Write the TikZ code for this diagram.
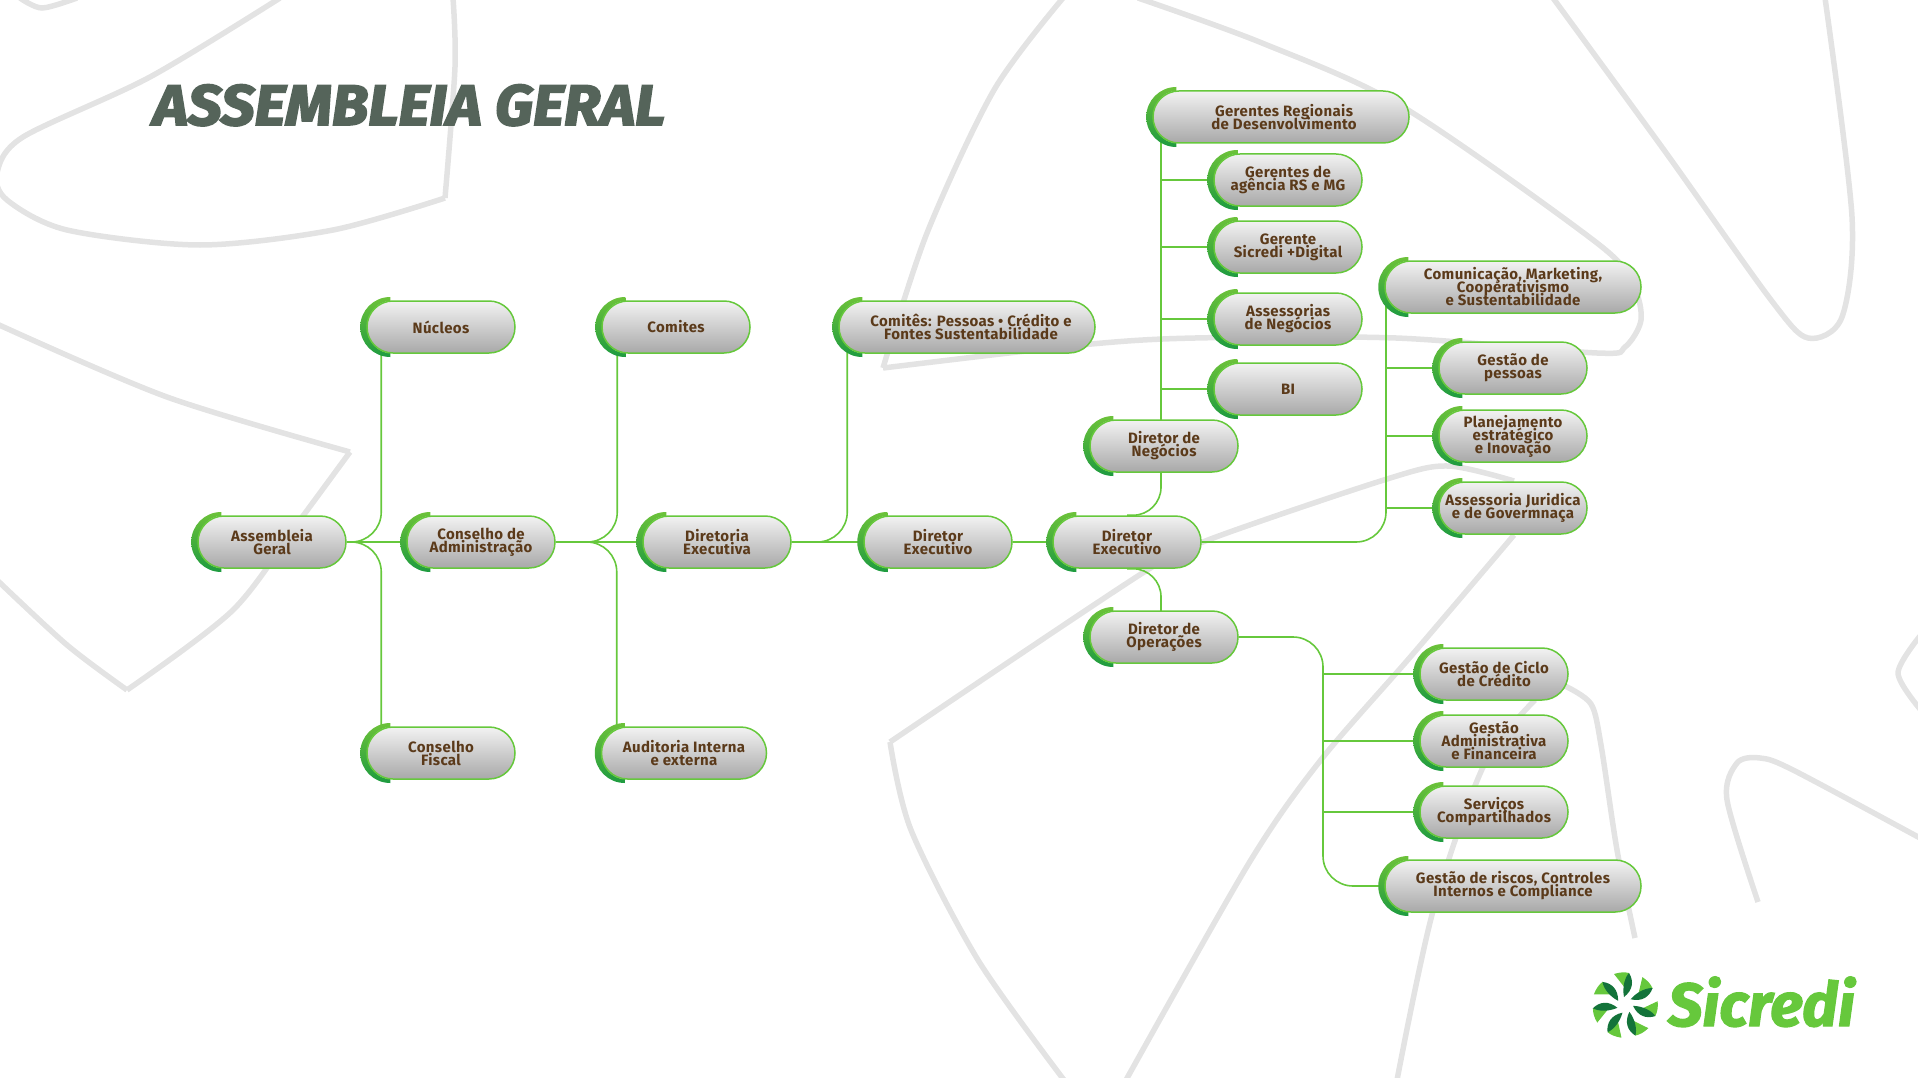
\documentclass[tikz,border=0pt]{standalone}
\usepackage{fontspec}
\setmainfont[LetterSpace=2.5]{Fira Sans}
\newfontfamily\titlefont[FakeBold=3.2,FakeStretch=1.05]{Fira Sans}
\newfontfamily\logofont[FakeBold=2]{Fira Sans}
\usetikzlibrary{backgrounds}
\definecolor{boxgreen}{HTML}{66C83C}
\definecolor{arctop}{HTML}{6CC23A}
\definecolor{arcbot}{HTML}{1E9B40}
\definecolor{textbrown}{HTML}{5B3A1A}
\definecolor{titlegrey}{HTML}{55645A}
\definecolor{swoosh}{HTML}{E3E3E3}
\definecolor{logodark}{HTML}{13733A}
\newcommand{\boxfont}{\bfseries\fontsize{15}{13}\selectfont\lineskiplimit=-20pt\relax}
\tikzset{
  main box/.style={rectangle, rounded corners=25.9pt, draw=boxgreen, line width=1.5pt,
    top color=white!95!black, bottom color=white!66!black, minimum width=#1, minimum height=52pt,
    inner sep=0pt, align=center, text=textbrown, font=\boxfont,
    append after command={
      \pgfextra{\shade[top color=arctop, bottom color=arcbot]
        ([shift={(24pt,30pt)}]\tikzlastnode.west) arc[start angle=90, end angle=270, radius=30pt]
        -- ++(0,4pt) arc[start angle=270, end angle=90, x radius=23pt, y radius=26pt] -- cycle;}
    }},
  main box/.default=148pt,
  conn/.style={draw=boxgreen, line width=1.6pt},
  back line/.style={draw=swoosh, line width=5.5pt, line join=miter}
}
\begin{document}
\begin{tikzpicture}[x=1pt, y=1pt]
  \useasboundingbox (0,0) rectangle (1918,-1078);

  % Background lines
  \begin{pgfonlayer}{background}
  \begin{scope}
    \clip (0,0) rectangle (1918,-1078);
    \draw[back line] plot[smooth] coordinates {(20,2) (42,-8) (77,2)};
    \draw[back line] plot[smooth] coordinates {(453,2) (455,-67) (445,-198)};
    \draw[back line] plot[smooth] coordinates {(445,-198) (333,-230) (200,-245) (67,-230) (7,-200) (-3,-173) (23,-137) (150,-77) (280,2)};
    \draw[back line] plot[smooth] coordinates {(-3,-324) (167,-397) (350,-452)};
    \draw[back line] plot[smooth] coordinates {(350,-452) (300,-520) (233,-610) (127,-690)};
    \draw[back line] plot[smooth] coordinates {(127,-690) (67,-645) (-3,-580)};
    \draw[back line] plot[smooth] coordinates {(1063,2) (994,-90) (927,-233) (883,-368)};
    \draw[back line] plot[smooth] coordinates {(883,-368) (1081,-345) (1195,-338) (1396,-338) (1597,-353) (1625,-347) (1641,-320) (1633,-285) (1597,-243) (1403,-107) (1262,-43) (1138,2)};
    \draw[back line] plot[smooth] coordinates {(1553,2) (1664,-150) (1771,-300) (1808,-338) (1842,-317) (1852,-217) (1825,2)};
    \draw[back line] plot[smooth] coordinates {(890,-742) (1141,-574) (1208,-540) (1387,-479) (1448,-466) (1514,-481)};
    \draw[back line] plot[smooth] coordinates {(890,-742) (911,-830) (978,-960) (1064,-1080)};
    \draw[back line] plot[smooth] coordinates {(1126,-1080) (1249,-863) (1320,-761) (1412,-655) (1514,-535)};
    \draw[back line] plot[smooth] coordinates {(1397,-1080) (1433,-911) (1484,-765) (1535,-700)};
    \draw[back line] plot[smooth] coordinates {(1565,-686) (1591,-704) (1601,-745) (1617,-850) (1635,-938)};
    \draw[back line] plot[smooth] coordinates {(1758,-902) (1727,-800) (1737,-763) (1760,-758) (1793,-770) (1920,-838)};
    \draw[back line] plot[smooth] coordinates {(1920,-636) (1898,-673) (1920,-709)};
  \end{scope}
  \end{pgfonlayer}

  % Title
  \node[anchor=base west, inner sep=0pt, text=titlegrey, font=\titlefont\bfseries\itshape\fontsize{57}{57}\selectfont] (title) at (153,-125) {ASSEMBLEIA GERAL};

  % Boxes
  \node[main box] (assembleia) at (272,-542) {Assembleia\\Geral};
  \node[main box] (nucleos) at (441,-327) {Núcleos};
  \node[main box] (fiscal) at (441,-753) {Conselho\\Fiscal};
  \node[main box] (conselho) at (481,-542) {Conselho de\\Administração};
  \node[main box] (comites) at (676,-327) {Comites};
  \node[main box=165pt] (auditoria) at (684,-753) {Auditoria Interna\\e externa};
  \node[main box] (diretoria) at (717,-542) {Diretoria\\Executiva};
  \node[main box=256pt] (pessoas) at (967,-327) {\hspace*{8pt}Comitês: Pessoas • Crédito e\\\hspace*{8pt}Fontes Sustentabilidade};
  \node[main box] (exec1) at (938,-542) {Diretor\\Executivo};
  \node[main box] (exec2) at (1127,-542) {Diretor\\Executivo};
  \node[main box] (negocios) at (1164,-446) {Diretor de\\Negócios};
  \node[main box] (operacoes) at (1164,-637) {Diretor de\\Operações};

  \node[main box=256pt] (regionais) at (1281,-117) {\hspace*{6pt}Gerentes Regionais\\\hspace*{6pt}de Desenvolvimento};
  \node[main box] (agencia) at (1288,-180) {Gerentes de\\agência RS e MG};
  \node[main box] (digital) at (1288,-247) {Gerente\\Sicredi +Digital};
  \node[main box] (assessorias) at (1288,-319) {Assessorias\\de Negócios};
  \node[main box] (bi) at (1288,-389) {BI};

  \node[main box=256pt] (comunicacao) at (1513,-287) {Comunicação, Marketing,\\Cooperativismo\\e Sustentabilidade};
  \node[main box] (gestaopessoas) at (1513,-368) {Gestão de\\pessoas};
  \node[main box] (planejamento) at (1513,-436) {Planejamento\\estratégico\\e Inovação};
  \node[main box] (juridica) at (1513,-508) {Assessoria Juridica\\e de Govermnaça};

  \node[main box] (ciclo) at (1494,-674) {Gestão de Ciclo\\de Crédito};
  \node[main box] (administrativa) at (1494,-741) {Gestão\\Administrativa\\e Financeira};
  \node[main box] (servicos) at (1494,-812) {Serviços\\Compartilhados};
  \node[main box=256pt] (riscos) at (1513,-886) {Gestão de riscos, Controles\\Internos e Compliance};

  % Trunks
  \coordinate (trunkneg) at (1161,-117);
  \coordinate (trunkcom) at (1386,-287);
  \coordinate (trunkope) at (1323,-637);

  % Connectors
  \begin{pgfonlayer}{background}
    \draw[conn] (assembleia.east) -- (conselho.west);
    \draw[conn] (conselho.east) -- (diretoria.west);
    \draw[conn] (diretoria.east) -- (exec1.west);
    \draw[conn] (exec1.east) -- (exec2.west);
    \draw[conn, rounded corners=30pt] (assembleia.east) -| ([xshift=15pt]nucleos.west);
    \draw[conn, rounded corners=30pt] (assembleia.east) -| ([xshift=15pt]fiscal.west);
    \draw[conn, rounded corners=30pt] (conselho.east) -| ([xshift=16pt]comites.west);
    \draw[conn, rounded corners=30pt] (conselho.east) -| ([xshift=16pt]auditoria.west);
    \draw[conn, rounded corners=30pt] (diretoria.east) -| ([xshift=9pt]pessoas.west);
    \draw[conn, rounded corners=28pt] (exec2.north) -| (trunkneg |- negocios.center);
    \draw[conn, rounded corners=28pt] (exec2.south) -| (trunkneg |- operacoes.center);
    \draw[conn] (trunkneg) -- (trunkneg |- negocios.center);
    \draw[conn] (trunkneg |- agencia.west) -- (agencia.west);
    \draw[conn] (trunkneg |- digital.west) -- (digital.west);
    \draw[conn] (trunkneg |- assessorias.west) -- (assessorias.west);
    \draw[conn] (trunkneg |- bi.west) -- (bi.west);
    \draw[conn, rounded corners=30pt] (exec2.east) -| (trunkcom);
    \draw[conn] (trunkcom |- gestaopessoas.west) -- (gestaopessoas.west);
    \draw[conn] (trunkcom |- planejamento.west) -- (planejamento.west);
    \draw[conn] (trunkcom |- juridica.west) -- (juridica.west);
    \draw[conn, rounded corners=30pt] (operacoes.east) -| (trunkope |- riscos.west) -- (riscos.west);
    \draw[conn] (trunkope |- ciclo.west) -- (ciclo.west);
    \draw[conn] (trunkope |- administrativa.west) -- (administrativa.west);
    \draw[conn] (trunkope |- servicos.west) -- (servicos.west);
  \end{pgfonlayer}

  % Logo
  \foreach \a in {0,51.43,102.86,154.29,205.71,257.14,308.57}{
    \begin{scope}[shift={(1625,-1005)}, rotate=\a]
      \fill[boxgreen] (-11,31) .. controls (-5,33) and (0,33) .. (4,32) -- (0,17) -- cycle;
      \fill[logodark] (-1,8) .. controls (-3,18) and (0,28) .. (4,32) .. controls (9,24) and (8,15) .. (-1,8) -- cycle;
    \end{scope}
  }
  \node[anchor=base west, inner sep=0pt, text=boxgreen, font=\logofont\bfseries\itshape\fontsize{61}{61}\selectfont] (logotext) at (1668,-1026) {Sicredi};
\end{tikzpicture}
\end{document}
